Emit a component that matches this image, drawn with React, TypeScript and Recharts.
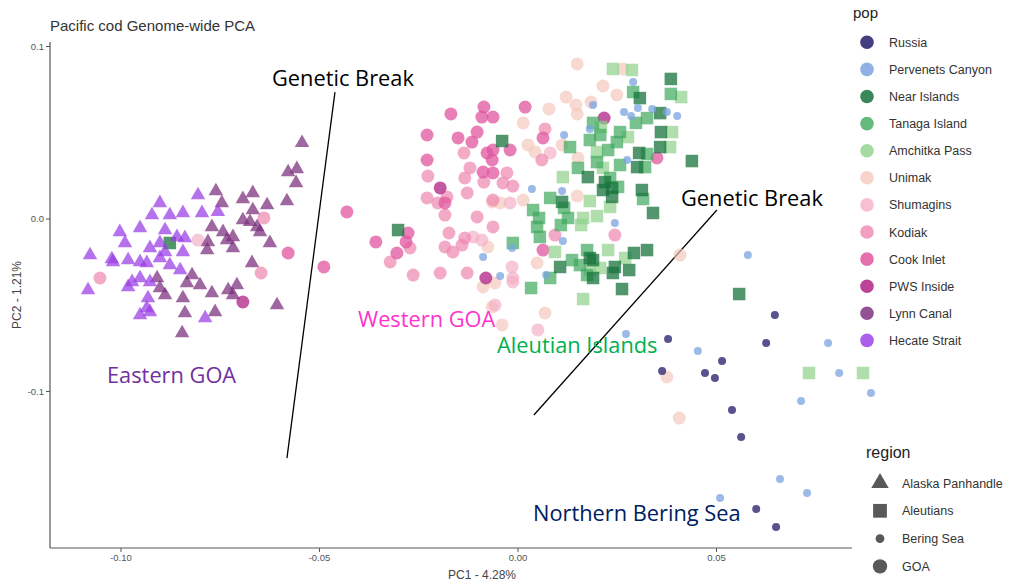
import { ScatterChart, Scatter, XAxis, YAxis, ReferenceLine } from "recharts";

// PC1 / PC2 coordinates per population
const russia: [number, number][] = [
  [0.0378, -0.0696], [0.0363, -0.0881], [0.0471, -0.0893], [0.0496, -0.0922], [0.0514, -0.0823],
  [0.0647, -0.0557], [0.0625, -0.0719], [0.0539, -0.1107], [0.0562, -0.1264], [0.06, -0.1681],
  [0.065, -0.1786],
];

const pervenets: [number, number][] = [
  [0.029, 0.0794], [0.0189, 0.0661], [0.0267, 0.062], [0.0302, 0.0643], [0.0338, 0.0638],
  [0.0285, 0.0597], [0.0375, 0.062], [0.0401, 0.0597], [0.0116, 0.0487], [0.0181, 0.0522],
  [0.0275, 0.0342], [0.0035, 0.0174], [0.0111, 0.0162], [0.0244, -0.0023], [0.0113, -0.0128],
  [-0.0015, -0.0168], [-0.0088, -0.022], [-0.0045, -0.033], [0.0071, -0.0325], [0.0272, -0.0667],
  [0.0453, -0.0765], [0.0579, -0.0209], [0.0781, -0.0719], [0.0809, -0.0893], [0.0889, -0.1009],
  [0.0713, -0.1055], [0.066, -0.1507], [0.0728, -0.1588], [0.0509, -0.1617],
];

const nearIslands: [number, number][] = [
  [-0.0877, -0.0139], [-0.0302, -0.0064], [-0.004, 0.0452], [0.0385, 0.0812], [0.0307, 0.0701],
  [0.0358, 0.0614], [0.036, 0.0504], [0.0358, 0.0417], [0.0305, 0.0383], [0.0438, 0.0336],
  [0.0176, 0.0243], [0.03, 0.0301], [0.0111, 0.0099], [0.0214, 0.0168], [0.0237, 0.018],
  [0.0237, 0.0128], [0.0219, 0.0214], [0.0312, 0.0168], [0.034, 0.0035], [0.0106, -0.0278],
  [0.0181, -0.0226], [0.0189, -0.0238], [0.0244, -0.0278], [0.0239, -0.0313], [0.028, -0.0296],
  [0.0292, -0.0197], [0.0325, -0.018], [0.0189, -0.0342], [0.0262, -0.0406], [0.0557, -0.0435],
];

const tanaga: [number, number][] = [
  [0.029, 0.0736], [0.0385, 0.0725], [0.0325, 0.0585], [0.0297, 0.0557], [0.0189, 0.0557],
  [0.0207, 0.0487], [0.0257, 0.0504], [0.0181, 0.0458], [0.0249, 0.0446], [0.0227, 0.04],
  [0.0131, 0.0417], [0.0325, 0.0377], [0.0151, 0.0296], [0.0199, 0.033], [0.0257, 0.0313],
  [0.032, 0.0301], [0.0232, 0.0238], [0.0081, 0.0122], [0.0116, 0.0064], [0.0038, 0.0052],
  [0.0053, 0.0006], [0.0048, -0.0046], [0.0055, -0.0104], [0.0126, 0.0006], [0.0108, -0.0035],
  [0.0252, 0.0186], [0.0315, 0.0116], [-0.0013, -0.0139], [0.0136, -0.0238], [0.0174, -0.018],
  [0.0156, -0.0267], [0.0174, -0.0325], [0.0081, -0.0342], [0.0033, -0.04],
];

const amchitka: [number, number][] = [
  [0.0239, 0.087], [0.0287, 0.0864], [0.0411, 0.0707], [0.0209, 0.0533], [0.0277, 0.0475],
  [0.0388, 0.0504], [0.0199, 0.0388], [0.0383, 0.0417], [0.0214, 0.0296], [0.0113, 0.0243],
  [0.0181, 0.0104], [0.0164, 0.0006], [0.0159, -0.0035], [0.0199, 0.0017], [0.0232, 0.007],
  [0.0093, -0.0191], [0.0227, -0.018], [0.0181, -0.0296], [0.0207, -0.0284], [0.027, -0.0226],
  [0.0164, -0.0464], [0.0733, -0.0893], [0.0869, -0.0893],
];

const unimak: [number, number][] = [
  [0.0149, 0.0899], [0.0264, 0.087], [0.0214, 0.0771], [0.0249, 0.0719], [0.0121, 0.0707],
  [0.0184, 0.0678], [0.0146, 0.0661], [0.0078, 0.0638], [0.0149, 0.0609], [0.0013, 0.0557],
  [0.0111, 0.0429], [0.0025, 0.0429], [0.0151, 0.0354], [0.0043, 0.0388], [-0.0065, 0.0099],
  [-0.0045, 0.0093], [0.0149, 0.0133], [0.0013, 0.011], [0.0048, -0.0255], [0.0068, -0.0545],
  [-0.0076, -0.0162], [-0.0088, -0.0394], [-0.0058, -0.0371], [-0.0065, -0.051], [-0.004, -0.0614],
  [0.0408, -0.0209], [0.0375, -0.0916], [0.0406, -0.1154],
];

const shumagins: [number, number][] = [
  [-0.0806, -0.0122], [-0.002, 0.0093], [-0.0113, -0.0104], [-0.0091, -0.0122], [-0.0015, -0.0278],
  [-0.0013, -0.0342], [0.0081, 0.0383], [-0.0013, -0.0365], [-0.0058, -0.0499], [0.005, -0.0643],
];

const kodiak: [number, number][] = [
  [-0.1053, -0.0342], [-0.064, 0.0006], [-0.0647, -0.0313], [-0.0272, -0.0168], [-0.0322, -0.0249],
  [-0.0264, -0.0325], [-0.0196, -0.0313], [-0.0128, -0.0313], [-0.0227, 0.0249], [-0.0229, 0.0122],
  [-0.0136, 0.0383], [-0.0121, 0.0296], [-0.0134, 0.0238], [-0.0028, 0.0267], [-0.0086, 0.0214],
  [-0.0038, 0.0209], [-0.0013, 0.0191], [-0.0179, 0.0128], [-0.0202, 0.0093], [-0.0128, 0.0151],
  [-0.0184, 0.0023], [-0.0103, 0.0012], [-0.0063, -0.0046], [-0.0174, -0.0081], [-0.0134, -0.011],
  [-0.0141, -0.0151], [-0.0184, -0.0162], [-0.0164, -0.0191], [0.0068, 0.0522], [0.006, 0.0342],
  [0.0093, -0.0093], [-0.0063, 0.011], [0.0244, -0.0093],
];

const cookInlet: [number, number][] = [
  [-0.0579, -0.0197], [-0.0431, 0.0041], [-0.0489, -0.0278], [-0.0358, -0.0133], [-0.0277, -0.0081],
  [-0.0282, -0.0133], [-0.0305, -0.0197], [-0.0229, 0.0487], [-0.0229, 0.0342], [-0.0169, 0.0609],
  [-0.0086, 0.0649], [-0.0091, 0.0591], [-0.0063, 0.0591], [-0.0151, 0.047], [-0.0116, 0.0446],
  [-0.0103, 0.0504], [-0.0078, 0.0383], [-0.0063, 0.04], [-0.0065, 0.0342], [-0.002, 0.04],
  [-0.0088, 0.0272], [-0.0063, 0.0267], [-0.0184, 0.0093], [0.0018, 0.0649], [0.0063, 0.047],
  [0.035, 0.0354], [0.0063, -0.018],
];

const pwsInside: [number, number][] = [
  [-0.0693, -0.0481], [-0.0081, -0.0342], [0.0217, 0.0585], [-0.0196, 0.018],
];

const lynnCanal: [number, number][] = [
  [-0.0544, 0.0441], [-0.0579, 0.0272], [-0.0557, 0.029], [-0.0559, 0.0209], [-0.0582, 0.0104],
  [-0.0761, 0.0162], [-0.0746, 0.0093], [-0.0693, 0.0116], [-0.0668, 0.0151], [-0.0632, 0.0081],
  [-0.0668, 0.0052], [-0.0693, -0.0006], [-0.0675, -0.0017], [-0.0657, -0.0046], [-0.065, -0.0075],
  [-0.0771, -0.0046], [-0.0743, -0.0075], [-0.0718, -0.0104], [-0.0733, -0.0122], [-0.0781, -0.0133],
  [-0.0783, -0.018], [-0.0718, -0.0168], [-0.0625, -0.0139], [-0.067, -0.0255], [-0.0821, -0.0325],
  [-0.0801, -0.0383], [-0.0834, -0.0371], [-0.0771, -0.0429], [-0.073, -0.0412], [-0.0708, -0.0383],
  [-0.0718, -0.0441], [-0.0889, -0.0441], [-0.0844, -0.0458], [-0.0909, -0.0342], [-0.0902, -0.04],
  [-0.0607, -0.0499], [-0.0839, -0.0545], [-0.0763, -0.0539], [-0.0846, -0.0661],
];

const hecateStrait: [number, number][] = [
  [-0.0806, 0.0139], [-0.0902, 0.0093], [-0.0922, 0.0023], [-0.0877, 0.0023], [-0.0844, 0.0035],
  [-0.0796, 0.0035], [-0.0756, 0.0041], [-0.1003, -0.0075], [-0.0952, -0.0052], [-0.0889, -0.0064],
  [-0.0859, -0.0104], [-0.0839, -0.011], [-0.099, -0.0139], [-0.0902, -0.0139], [-0.0889, -0.0191],
  [-0.0927, -0.0168], [-0.0844, -0.0191], [-0.1078, -0.0209], [-0.102, -0.0249], [-0.0982, -0.0238],
  [-0.0952, -0.0249], [-0.0935, -0.0255], [-0.0902, -0.0226], [-0.0877, -0.0267], [-0.0851, -0.0296],
  [-0.1083, -0.0412], [-0.0982, -0.0394], [-0.0952, -0.0342], [-0.0927, -0.0365], [-0.0972, -0.0365],
  [-0.0932, -0.0458], [-0.0935, -0.0516], [-0.0952, -0.0557], [-0.0927, -0.0539], [-0.0788, -0.0574],
  [-0.1023, -0.0232],
];

const xTicks = [-0.1, -0.05, 0, 0.05];
const yTicks = [-0.1, 0, 0.1];

// the two "genetic break" lines
const break1 = [{ x: -0.0461, y: 0.0736 }, { x: -0.0582, y: -0.1386 }];
const break2 = [{ x: 0.0501, y: 0.0052 }, { x: 0.004, y: -0.1136 }];

const X_DOMAIN: [number, number] = [-0.11788, 0.09118];
const Y_DOMAIN: [number, number] = [-0.19072, 0.10261];
const X_AXIS_END = 0.0841;

type Shape = "triangle" | "square" | "small" | "circle";

const pops: { name: string; color: string; opacity: number; shape: Shape; data: [number, number][] }[] = [
  { name: "Unimak", color: "#f5c4b8", opacity: 0.65, shape: "circle", data: unimak },
  { name: "Shumagins", color: "#f4b0c6", opacity: 0.7, shape: "circle", data: shumagins },
  { name: "Kodiak", color: "#ee89b2", opacity: 0.72, shape: "circle", data: kodiak },
  { name: "Cook Inlet", color: "#e0559f", opacity: 0.75, shape: "circle", data: cookInlet },
  { name: "PWS Inside", color: "#b52f8c", opacity: 0.8, shape: "circle", data: pwsInside },
  { name: "Amchitka Pass", color: "#8fd18a", opacity: 0.7, shape: "square", data: amchitka },
  { name: "Tanaga Island", color: "#3ea85c", opacity: 0.7, shape: "square", data: tanaga },
  { name: "Near Islands", color: "#17733c", opacity: 0.75, shape: "square", data: nearIslands },
  { name: "Pervenets Canyon", color: "#7ba3e0", opacity: 0.75, shape: "small", data: pervenets },
  { name: "Russia", color: "#29236e", opacity: 0.78, shape: "small", data: russia },
  { name: "Lynn Canal", color: "#7a2c7c", opacity: 0.72, shape: "triangle", data: lynnCanal },
  { name: "Hecate Strait", color: "#9a3ce6", opacity: 0.72, shape: "triangle", data: hecateStrait },
];

const legendOrder = [
  "Russia", "Pervenets Canyon", "Near Islands", "Tanaga Island", "Amchitka Pass", "Unimak",
  "Shumagins", "Kodiak", "Cook Inlet", "PWS Inside", "Lynn Canal", "Hecate Strait",
];
const regions: { name: string; shape: Shape }[] = [
  { name: "Alaska Panhandle", shape: "triangle" },
  { name: "Aleutians", shape: "square" },
  { name: "Bering Sea", shape: "small" },
  { name: "GOA", shape: "circle" },
];

function mark(shape: Shape, cx: number, cy: number, fill: string, opacity: number, scale = 1) {
  if (shape === "triangle") {
    const s = 14.5 * scale;
    const h = s * 0.866;
    const pts = `${cx},${cy - (2 * h) / 3} ${cx - s / 2},${cy + h / 3} ${cx + s / 2},${cy + h / 3}`;
    return <polygon points={pts} fill={fill} fillOpacity={opacity} />;
  }
  if (shape === "square") {
    const s = 12.5 * scale;
    return <rect x={cx - s / 2} y={cy - s / 2} width={s} height={s} fill={fill} fillOpacity={opacity} />;
  }
  const r = (shape === "small" ? 4 : 6.5) * scale;
  return <circle cx={cx} cy={cy} r={r} fill={fill} fillOpacity={opacity} />;
}

const font = "'Liberation Sans', Arial, sans-serif";
const annoFont = "'Open Sans', sans-serif";

export default function App() {
  return (
    <div style={{ position: "absolute", left: 0, top: 0, width: 1013, height: 585, background: "#fff" }}>
      <ScatterChart width={1013} height={585} margin={{ top: 42, right: 133, bottom: 0, left: 0 }}>
        <XAxis
          type="number"
          dataKey="x"
          domain={X_DOMAIN}
          ticks={xTicks}
          tickFormatter={(v: number) => v.toFixed(2)}
          axisLine={false}
          tickSize={4}
          tickLine={{ stroke: "#555" }}
          tick={{ fontSize: 9.5, fill: "#555", fontFamily: font }}
          height={37}
          allowDataOverflow
        />
        <YAxis
          type="number"
          dataKey="y"
          domain={Y_DOMAIN}
          ticks={yTicks}
          tickFormatter={(v: number) => v.toFixed(1)}
          axisLine={{ stroke: "#555", strokeWidth: 1.2 }}
          tickSize={4}
          tickLine={{ stroke: "#555" }}
          tick={{ fontSize: 9.5, fill: "#555", fontFamily: font }}
          width={50}
          allowDataOverflow
        />
        <ReferenceLine
          segment={[{ x: X_DOMAIN[0], y: Y_DOMAIN[0] }, { x: X_AXIS_END, y: Y_DOMAIN[0] }]}
          stroke="#555"
          strokeWidth={1.2}
          ifOverflow="visible"
        />
        {pops.map((p) => (
          <Scatter
            key={p.name}
            name={p.name}
            data={p.data.map(([x, y]) => ({ x, y }))}
            isAnimationActive={false}
            shape={(props: any) => mark(p.shape, props.cx, props.cy, p.color, p.opacity)}
          />
        ))}
        <ReferenceLine segment={break1} stroke="#000" strokeWidth={1.3} ifOverflow="visible" />
        <ReferenceLine segment={break2} stroke="#000" strokeWidth={1.3} ifOverflow="visible" />
      </ScatterChart>

      <svg
        width={1013}
        height={585}
        style={{ position: "absolute", left: 0, top: 0, pointerEvents: "none" }}
      >
        <text x={50} y={31} fontSize={15} fill="#333" fontFamily={font}>
          Pacific cod Genome-wide PCA
        </text>
        <text x={482} y={579} fontSize={12} fill="#444" fontFamily={font} textAnchor="middle">
          PC1 - 4.28%
        </text>
        <text
          x={0}
          y={0}
          fontSize={12}
          fill="#444"
          fontFamily={font}
          textAnchor="middle"
          transform="translate(21,295) rotate(-90)"
        >
          PC2 - 1.21%
        </text>

        <g fontFamily={annoFont} fontSize={21.8}>
          <text x={272} y={86} fill="#000">Genetic Break</text>
          <text x={681} y={206} fill="#000">Genetic Break</text>
          <text x={107} y={383} fill="#7030a0">Eastern GOA</text>
          <text x={358} y={327} fill="#ff33cc">Western GOA</text>
          <text x={497} y={353} fill="#00b050">Aleutian Islands</text>
          <text x={533} y={521} fill="#002060">Northern Bering Sea</text>
        </g>

        <g fontFamily={font}>
          <text x={853} y={18} fontSize={15} fill="#222">pop</text>
          {legendOrder.map((name, i) => {
            const p = pops.find((q) => q.name === name)!;
            const cy = 42.3 + i * 27.1;
            return (
              <g key={name}>
                <circle cx={867} cy={cy} r={6.8} fill={p.color} fillOpacity={Math.min(1, p.opacity + 0.1)} />
                <text x={889} y={cy + 4.5} fontSize={12.5} fill="#333">{name}</text>
              </g>
            );
          })}
          <text x={866} y={458} fontSize={16} fill="#222">region</text>
          {regions.map((r, i) => {
            const cy = 483 + i * 27.8;
            return (
              <g key={r.name}>
                {mark(r.shape, 880, cy, "#595959", 1, r.shape === "triangle" ? 1.2 : 1.1)}
                <text x={902} y={cy + 4.5} fontSize={12.5} fill="#333">{r.name}</text>
              </g>
            );
          })}
        </g>
      </svg>
    </div>
  );
}
